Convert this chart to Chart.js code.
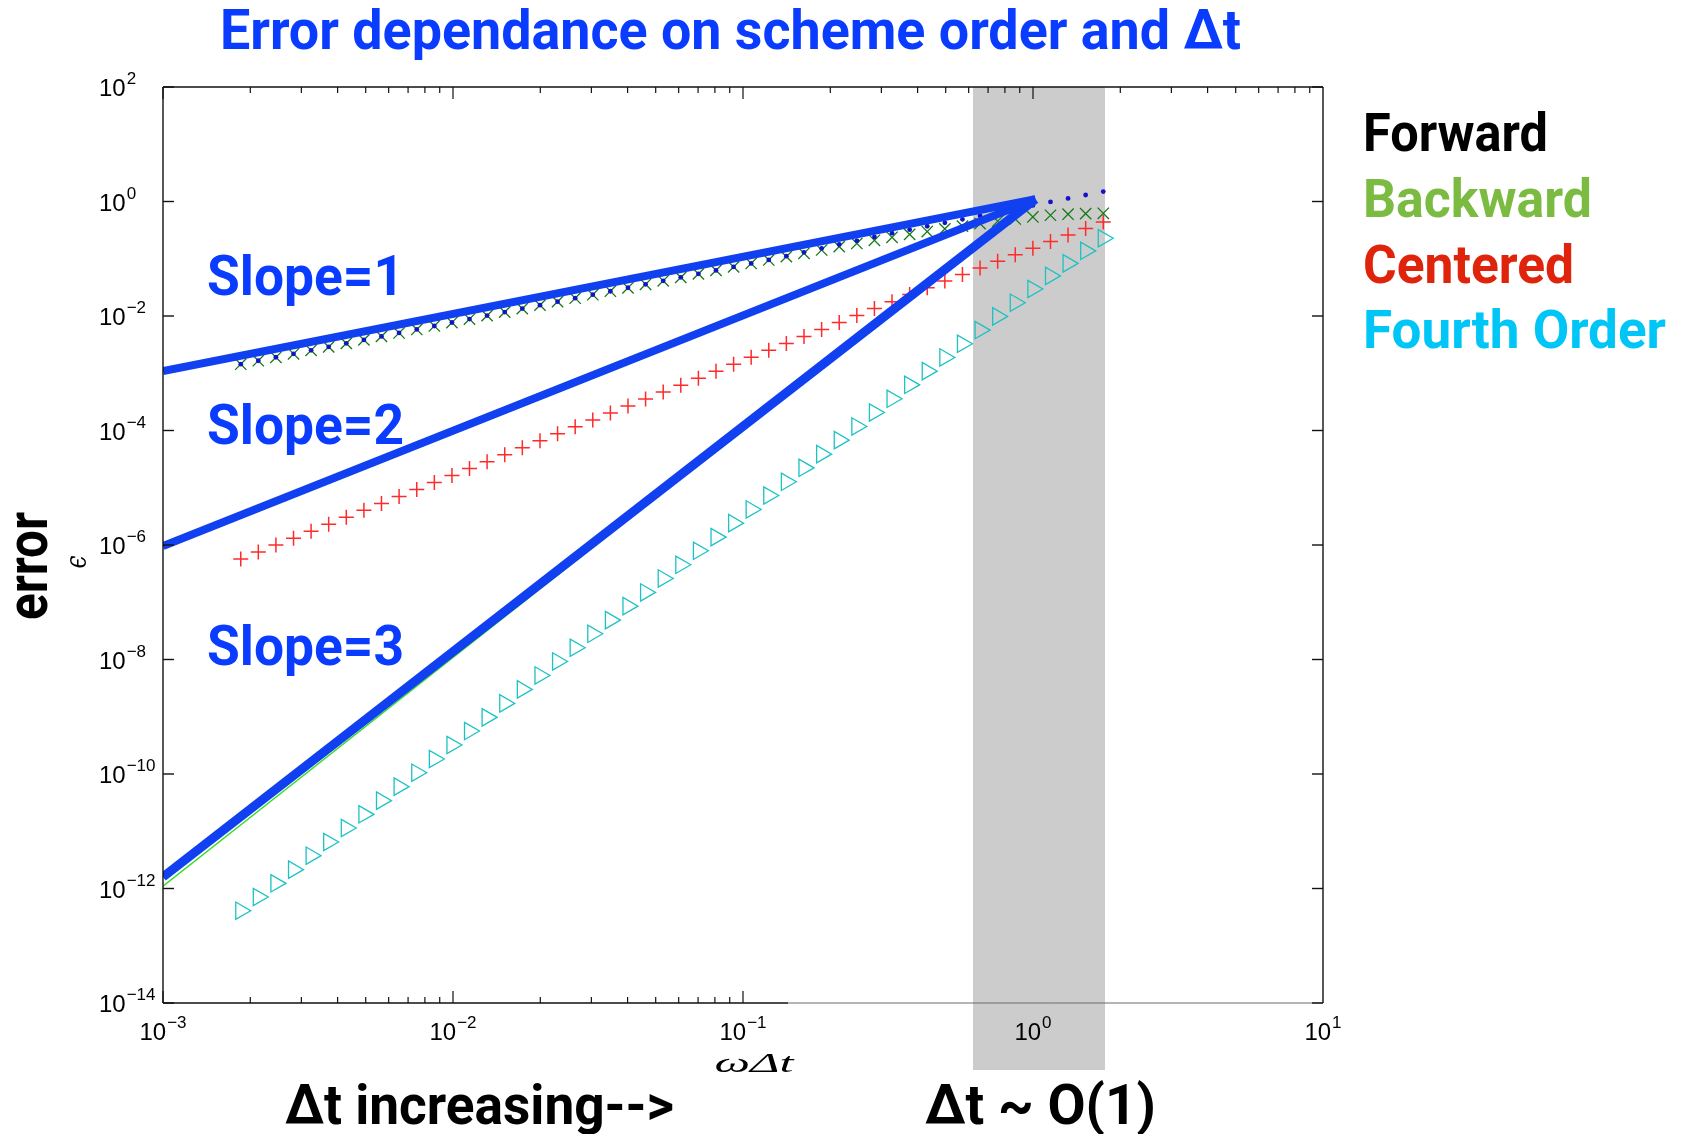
<!DOCTYPE html>
<html>
<head>
<meta charset="utf-8">
<title>Error dependance on scheme order and Δt</title>
<script src="https://cdn.jsdelivr.net/npm/chart.js@4"></script>
<style>
    html, body { margin: 0; padding: 0; background: #fff; }
    #errorChart { display: block; }
</style>
</head>
<body>
<canvas id="errorChart" width="1686" height="1134"></canvas>
<script>
// omega * dt values (x axis)
const xValues = [0.001854, 0.002131, 0.002451, 0.002819, 0.003241, 0.003727, 0.004286, 0.004929, 0.005668, 0.006518,
    0.007499, 0.008623, 0.009917, 0.01140, 0.01311, 0.01508, 0.01734, 0.01995, 0.02294, 0.02638,
    0.03034, 0.03489, 0.04012, 0.04614, 0.05307, 0.06102, 0.07018, 0.08071, 0.09282, 0.1067,
    0.1227, 0.1411, 0.1623, 0.1867, 0.2147, 0.2469, 0.2839, 0.3265, 0.3755, 0.4318,
    0.4966, 0.5711, 0.6568, 0.7553, 0.8686, 0.9989, 1.149, 1.321, 1.519, 1.747];

// error of each scheme
const forwardErr = [0.001439, 0.001654, 0.001902, 0.002188, 0.002515, 0.002892, 0.003326, 0.003825, 0.004398, 0.005058,
    0.005819, 0.006691, 0.007696, 0.008846, 0.01017, 0.01170, 0.01346, 0.01548, 0.01780, 0.02047,
    0.02354, 0.02707, 0.03113, 0.03580, 0.04118, 0.04735, 0.05446, 0.06263, 0.07203, 0.08280,
    0.09522, 0.1109, 0.1294, 0.1517, 0.1774, 0.2065, 0.2404, 0.2793, 0.3214, 0.3698,
    0.4246, 0.4887, 0.5610, 0.6457, 0.7430, 0.8531, 0.9817, 1.130, 1.300, 1.493];
const backwardErr = [0.001439, 0.001654, 0.001902, 0.002188, 0.002515, 0.002892, 0.003326, 0.003825, 0.004398, 0.005058,
    0.005819, 0.006691, 0.007696, 0.008846, 0.01017, 0.01170, 0.01346, 0.01548, 0.01780, 0.02047,
    0.02354, 0.02707, 0.03113, 0.03580, 0.04118, 0.04735, 0.05446, 0.06263, 0.07203, 0.08280,
    0.09522, 0.1091, 0.1245, 0.1422, 0.1626, 0.1849, 0.2099, 0.2371, 0.2661, 0.2985,
    0.3327, 0.3715, 0.4121, 0.4519, 0.4955, 0.5370, 0.5754, 0.5998, 0.6138, 0.6223];
const centeredErr = [5.69e-7, 7.52e-7, 9.95e-7, 1.317e-6, 1.742e-6, 2.304e-6, 3.048e-6, 4.032e-6, 5.333e-6, 7.055e-6,
    9.333e-6, 1.235e-5, 1.633e-5, 2.160e-5, 2.858e-5, 3.780e-5, 5.000e-5, 6.615e-5, 8.750e-5, 1.1575e-4,
    1.531e-4, 2.025e-4, 2.679e-4, 3.544e-4, 4.688e-4, 6.202e-4, 8.204e-4, 1.0853e-3, 1.4355e-3, 1.899e-3,
    2.512e-3, 3.323e-3, 4.395e-3, 5.814e-3, 7.691e-3, 1.0174e-2, 1.346e-2, 1.778e-2, 2.371e-2, 3.126e-2,
    4.074e-2, 5.309e-2, 6.918e-2, 9.016e-2, 0.1175, 0.1531, 0.1995, 0.2600, 0.3388, 0.4365];
const fourthErr = [4.093e-13, 7.10e-13, 1.231e-12, 2.135e-12, 3.745e-12, 6.494e-12, 1.139e-11, 1.975e-11, 3.426e-11, 6.010e-11,
    1.054e-10, 1.829e-10, 3.207e-10, 5.627e-10, 9.759e-10, 1.712e-9, 3.003e-9, 5.267e-9, 9.243e-9, 1.603e-8,
    2.812e-8, 4.876e-8, 8.555e-8, 1.484e-7, 2.603e-7, 4.513e-7, 7.917e-7, 1.373e-6, 2.409e-6, 4.177e-6,
    7.328e-6, 1.271e-5, 2.229e-5, 3.866e-5, 6.783e-5, 1.176e-4, 2.063e-4, 3.578e-4, 6.277e-4, 1.089e-3,
    1.888e-3, 3.274e-3, 5.678e-3, 9.847e-3, 1.708e-2, 2.961e-2, 5.018e-2, 8.312e-2, 0.1376, 0.2280];

// reference slope lines (two end points each)
const slopeLineX = [0.001, 1.02];
const slope1Y = [1.09e-3, 1.1];
const slope2Y = [9.6e-7, 1.1];
const slope3Y = [1.59e-12, 1.1];
const refLineX = [0.001, 1.0];
const refLineY = [1.1e-12, 1.05];

// shaded dt ~ O(1) region
const bandRange = [0.621, 1.771];

// axis ticks
const xTickValues = [1e-3, 1e-2, 1e-1, 1e0, 1e1];
const xTickExps = ['\u22123', '\u22122', '\u22121', '0', '1'];
const yTickValues = [1e2, 1e0, 1e-2, 1e-4, 1e-6, 1e-8, 1e-10, 1e-12, 1e-14];
const yTickExps = ['2', '0', '\u22122', '\u22124', '\u22126', '\u22128', '\u221210', '\u221212', '\u221214'];

// legend
const seriesNames = ['Forward', 'Backward', 'Centered', 'Fourth Order'];
const seriesTextColors = ['#000000', '#7bbb42', '#e0240c', '#00c6f8'];

const BIG_FONT = '"Roboto", "Liberation Sans", sans-serif';
const TICK_FONT = '"Liberation Sans", "Arial", sans-serif';
const TEXT_BLUE = '#0a3cff';

function points(xs, ys) {
    return xs.map((x, i) => ({ x: x, y: ys[i] }));
}

// draw text stretched/condensed to a given width
function fitText(ctx, text, x, y, font, color, width, align) {
    ctx.save();
    ctx.font = font;
    ctx.fillStyle = color;
    ctx.textAlign = 'left';
    ctx.textBaseline = 'alphabetic';
    const w = ctx.measureText(text).width;
    const x0 = align === 'center' ? x - width / 2 : x;
    ctx.translate(x0, y);
    ctx.scale(width / w, 1);
    ctx.fillText(text, 0, 0);
    ctx.restore();
}

// "10" with superscript exponent
function drawPower(ctx, exp, x, y, align) {
    ctx.save();
    ctx.fillStyle = '#000';
    ctx.textAlign = 'left';
    ctx.textBaseline = 'alphabetic';
    ctx.font = '24px ' + TICK_FONT;
    const wBase = ctx.measureText('10').width;
    ctx.font = '17px ' + TICK_FONT;
    const wExp = ctx.measureText(exp).width;
    const start = align === 'center' ? x - (wBase + 1 + wExp) / 2 : x;
    ctx.font = '24px ' + TICK_FONT;
    ctx.fillText('10', start, y);
    ctx.font = '17px ' + TICK_FONT;
    ctx.fillText(exp, start + wBase + 1, y - 12);
    ctx.restore();
}

function line(ctx, x1, y1, x2, y2) {
    ctx.beginPath();
    ctx.moveTo(x1, y1);
    ctx.lineTo(x2, y2);
    ctx.stroke();
}

// grey band behind the data
const bandPlugin = {
    id: 'band',
    beforeDatasetsDraw(chart) {
        const ctx = chart.ctx;
        const xs = chart.scales.x;
        const area = chart.chartArea;
        const x1 = xs.getPixelForValue(bandRange[0]);
        const x2 = xs.getPixelForValue(bandRange[1]);
        ctx.save();
        ctx.fillStyle = '#cccccc';
        ctx.fillRect(x1, area.top, x2 - x1, area.bottom - area.top + 67);
        ctx.restore();
    }
};

// box axes, ticks, labels and the text annotations
const decoPlugin = {
    id: 'deco',
    afterDatasetsDraw(chart) {
        const ctx = chart.ctx;
        const xs = chart.scales.x;
        const ys = chart.scales.y;
        const a = chart.chartArea;
        const bottomEnd = xs.getPixelForValue(0.143);

        ctx.save();
        ctx.lineCap = 'butt';
        ctx.strokeStyle = '#6a6a6a';
        ctx.lineWidth = 1;
        line(ctx, bottomEnd, a.bottom, a.right, a.bottom);
        ctx.strokeStyle = '#111';
        ctx.lineWidth = 1.4;
        line(ctx, a.left, a.top, a.right, a.top);
        line(ctx, a.left, a.top, a.left, a.bottom);
        line(ctx, a.right, a.top, a.right, a.bottom);
        line(ctx, a.left, a.bottom, bottomEnd, a.bottom);

        // y ticks on both sides
        yTickValues.forEach(v => {
            const py = ys.getPixelForValue(v);
            line(ctx, a.left, py, a.left + 11, py);
            line(ctx, a.right, py, a.right - 11, py);
        });

        // x ticks: majors and minors on top, bottom only up to 0.1
        ctx.lineWidth = 1.2;
        for (let d = -3; d <= 0; d++) {
            for (let k = 1; k <= 9; k++) {
                const v = k * Math.pow(10, d);
                const px = xs.getPixelForValue(v);
                const len = k === 1 ? 12 : 6;
                line(ctx, px, a.top, px, a.top + len);
                if (v <= 0.1 + 1e-9) line(ctx, px, a.bottom, px, a.bottom - len);
            }
        }
        ctx.restore();

        // tick labels
        yTickValues.forEach((v, i) => drawPower(ctx, yTickExps[i], 99, ys.getPixelForValue(v) + 9, 'left'));
        xTickValues.forEach((v, i) => drawPower(ctx, xTickExps[i], xs.getPixelForValue(v), 1040, 'center'));

        // axis labels
        fitText(ctx, '\u03c9\u0394t', 754, 1072, 'italic 28px "Liberation Serif", "DejaVu Serif", serif', '#000', 79, 'center');
        ctx.save();
        ctx.translate(86, 562);
        ctx.rotate(-Math.PI / 2);
        fitText(ctx, '\u03f5', 0, 0, 'italic 30px "DejaVu Serif", serif', '#000', 13, 'center');
        ctx.restore();
        ctx.save();
        ctx.translate(47, 566);
        ctx.rotate(-Math.PI / 2);
        fitText(ctx, 'error', 0, 0, 'bold 57px ' + BIG_FONT, '#000', 108, 'center');
        ctx.restore();

        // title
        fitText(ctx, 'Error dependance on scheme order and \u0394t', 220, 49, 'bold 55px ' + BIG_FONT, TEXT_BLUE, 1021, 'left');

        // legend text
        const legendBase = [151, 217, 283, 348];
        const legendWidth = [185, 229, 211, 303];
        seriesNames.forEach((name, i) => {
            fitText(ctx, name, 1363, legendBase[i], 'bold 53px ' + BIG_FONT, seriesTextColors[i], legendWidth[i], 'left');
        });

        // slope annotations
        fitText(ctx, 'Slope=1', 207, 295, 'bold 55px ' + BIG_FONT, TEXT_BLUE, 197, 'left');
        fitText(ctx, 'Slope=2', 207, 444, 'bold 55px ' + BIG_FONT, TEXT_BLUE, 197, 'left');
        fitText(ctx, 'Slope=3', 207, 665, 'bold 55px ' + BIG_FONT, TEXT_BLUE, 197, 'left');

        // bottom annotations
        fitText(ctx, '\u0394t increasing-->', 285, 1124, 'bold 56px ' + BIG_FONT, '#000', 389, 'left');
        fitText(ctx, '\u0394t ~ O(1)', 925, 1124, 'bold 56px ' + BIG_FONT, '#000', 231, 'left');
    }
};

document.addEventListener('DOMContentLoaded', () => {
    const ctx = document.getElementById('errorChart').getContext('2d');

    const lineStyle = (color, width, order) => ({
        showLine: true,
        borderColor: color,
        borderWidth: width,
        pointRadius: 0,
        fill: false,
        order: order
    });

    new Chart(ctx, {
        type: 'scatter',
        data: {
            datasets: [
                Object.assign({ label: 'Slope 1', data: points(slopeLineX, slope1Y) }, lineStyle('#1040f0', 8, 0)),
                Object.assign({ label: 'Slope 2', data: points(slopeLineX, slope2Y) }, lineStyle('#1040f0', 8, 0)),
                Object.assign({ label: 'Slope 3', data: points(slopeLineX, slope3Y) }, lineStyle('#1040f0', 9, 0)),
                Object.assign({ label: 'Reference', data: points(refLineX, refLineY) }, lineStyle('#33dd22', 1.3, 1)),
                {
                    label: seriesNames[0],
                    data: points(xValues, forwardErr),
                    pointStyle: 'circle',
                    pointRadius: 2.4,
                    backgroundColor: '#1212cc',
                    borderColor: '#1212cc',
                    borderWidth: 0,
                    order: 2
                },
                {
                    label: seriesNames[1],
                    data: points(xValues, backwardErr),
                    pointStyle: 'crossRot',
                    pointRadius: 8,
                    borderColor: '#147a14',
                    borderWidth: 1.3,
                    order: 3
                },
                {
                    label: seriesNames[2],
                    data: points(xValues, centeredErr),
                    pointStyle: 'cross',
                    pointRadius: 7.5,
                    borderColor: '#ff2a2a',
                    borderWidth: 1.5,
                    order: 4
                },
                {
                    label: seriesNames[3],
                    data: points(xValues, fourthErr),
                    pointStyle: 'triangle',
                    pointRotation: 90,
                    pointRadius: 10,
                    backgroundColor: 'rgba(0,0,0,0)',
                    borderColor: '#1cc2c4',
                    borderWidth: 1.3,
                    order: 5
                }
            ]
        },
        options: {
            responsive: false,
            devicePixelRatio: 1,
            animation: false,
            layout: { padding: { left: 163, top: 87, right: 363, bottom: 131 } },
            plugins: {
                legend: { display: false },
                title: { display: false },
                tooltip: { enabled: false }
            },
            scales: {
                x: { type: 'logarithmic', min: 1e-3, max: 10, display: false },
                y: { type: 'logarithmic', min: 1e-14, max: 100, display: false }
            }
        },
        plugins: [bandPlugin, decoPlugin]
    });
});
</script>
</body>
</html>
